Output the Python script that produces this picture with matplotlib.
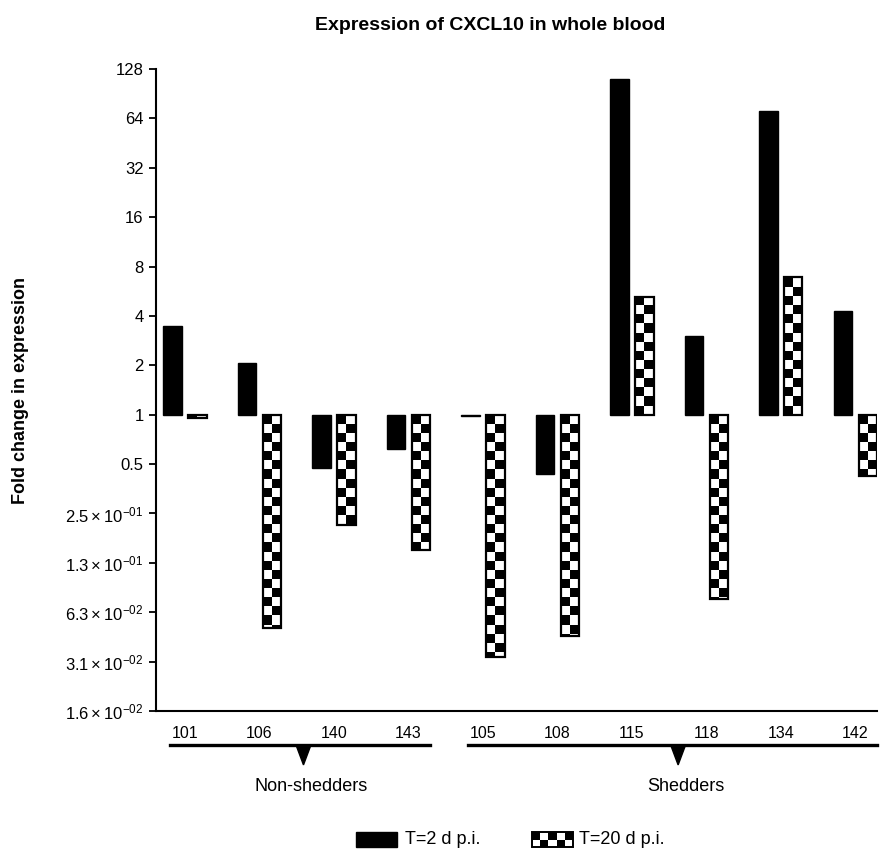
import numpy as np
import matplotlib
matplotlib.use('Agg')
import matplotlib.pyplot as plt
from matplotlib.patches import Rectangle, Polygon
from matplotlib.lines import Line2D

plt.rcParams['font.family'] = ['Liberation Sans', 'DejaVu Sans']
plt.rcParams['mathtext.fontset'] = 'custom'
plt.rcParams['mathtext.rm'] = 'Liberation Sans'
plt.rcParams['mathtext.it'] = 'Liberation Sans:italic'
plt.rcParams['mathtext.bf'] = 'Liberation Sans:bold'

# fold change per animal
animals = ['101', '106', '140', '143', '105', '108', '115', '118', '134', '142']
day2 = [3.46, 2.07, 0.473, 0.617, 0.985, 0.435, 111, 3.0, 71, 4.26]
day20 = [0.96, 0.050, 0.212, 0.150, 0.0333, 0.0446, 5.2, 0.0753, 6.87, 0.424]

groups = ['Non-shedders', 'Shedders']
group_first = [0, 4]
group_last = [3, 9]

ytick_vals = 2.0 ** np.arange(-6, 8)
ytick_labels = [r'$\mathregular{1.6\times10^{-02}}$', r'$\mathregular{3.1\times10^{-02}}$',
                r'$\mathregular{6.3\times10^{-02}}$', r'$\mathregular{1.3\times10^{-01}}$',
                r'$\mathregular{2.5\times10^{-01}}$', '0.5', '1', '2', '4', '8', '16',
                '32', '64', '128']

legend_labels = ['T=2 d p.i.', 'T=20 d p.i.']

W, H = 881, 852
fig = plt.figure(figsize=(W / 100, H / 100), dpi=100)
ax = fig.add_axes([156 / W, 1 - 711 / H, 721 / W, 642 / H])

x = np.arange(len(animals))
bw = 0.245
off = 0.167

ax.set_yscale('log', base=2)
ax.set_ylim(ytick_vals[0], ytick_vals[-1])
ax.set_xlim(-0.39, 9.29)

for s in ['top', 'right']:
    ax.spines[s].set_visible(False)
for s in ['left', 'bottom']:
    ax.spines[s].set_linewidth(1.5)

ax.set_yticks(ytick_vals)
ax.set_yticklabels(ytick_labels)
ax.yaxis.set_minor_locator(matplotlib.ticker.NullLocator())
ax.tick_params(axis='y', direction='out', length=5, width=1.3, labelsize=12, pad=4)
ax.set_xticks(x)
ax.set_xticklabels(animals)
ax.tick_params(axis='x', length=0, labelsize=11.5, pad=11)

# black bars: day 2
for xi, v in zip(x, day2):
    ax.bar(xi - off, v - 1, bottom=1, width=bw, color='black', edgecolor='black',
           linewidth=1.0, zorder=2)


def checker_cells(xc, v):
    inv = ax.transData.inverted()
    px0, py0 = ax.transData.transform((xc - bw / 2, 1))
    px1, py1 = ax.transData.transform((xc + bw / 2, v))
    cw = (px1 - px0) / 2
    sgn = 1 if py1 > py0 else -1
    n = int(np.ceil(abs(py1 - py0) / cw)) + 1
    cells = []
    for r in range(n):
        for c in range(2):
            if (r + c) % 2 == 0:
                a = inv.transform((px0 + c * cw, py0 + sgn * r * cw))
                b = inv.transform((px0 + (c + 1) * cw, py0 + sgn * (r + 1) * cw))
                cells.append((a[0], min(a[1], b[1]), b[0] - a[0], abs(b[1] - a[1])))
    return cells


# checkered bars: day 20
for xi, v in zip(x, day20):
    xc = xi + off
    ax.bar(xc, v - 1, bottom=1, width=bw, color='white', edgecolor='none', zorder=1.5)
    outline = ax.bar(xc, v - 1, bottom=1, width=bw, facecolor='none', edgecolor='black',
                     linewidth=1.6, zorder=3)[0]
    for cx, cy, cwid, chei in checker_cells(xc, v):
        r = Rectangle((cx, cy), cwid, chei, facecolor='black', edgecolor='none', zorder=2)
        ax.add_patch(r)
        r.set_clip_path(outline)

# group brackets under the axis
trans = ax.get_xaxis_transform()
tri_x = [1.59, 6.62]
for g, lab in enumerate(groups):
    x0 = group_first[g] - 0.2
    x1 = group_last[g] + 0.29
    ax.add_line(Line2D([x0, x1], [-0.053, -0.053], color='black', lw=2.4,
                       transform=trans, clip_on=False))
    tx = tri_x[g]
    ax.add_patch(Polygon([[tx - 0.1, -0.053], [tx + 0.1, -0.053], [tx, -0.084]],
                         closed=True, color='black', transform=trans, clip_on=False))
    ax.text(tx + 0.1, -0.118, lab, transform=trans, ha='center', va='center', fontsize=13)

ax.set_ylabel('Fold change in expression', fontsize=13, fontweight='bold', va='center')
ax.yaxis.set_label_coords(-0.188, 0.5)
fig.text(490 / W, 1 - 26 / H, 'Expression of CXCL10 in whole blood', ha='center',
         va='center', fontsize=14, fontweight='bold')

# legend
ly0, lh = 1 - 847 / H, 15 / H
fig.patches.append(Rectangle((356 / W, ly0), 41 / W, lh, facecolor='black',
                             edgecolor='black', transform=fig.transFigure))
fig.text(405 / W, 1 - 840 / H, legend_labels[0], ha='left', va='center', fontsize=13)
fig.patches.append(Rectangle((532 / W, ly0), 41 / W, lh, facecolor='white',
                             edgecolor='none', transform=fig.transFigure, zorder=1))
for r in range(2):
    for c in range(5):
        if (r + c) % 2 == 1:
            fig.patches.append(Rectangle(((532 + c * 8.2) / W, ly0 + r * lh / 2), 8.2 / W,
                                         lh / 2, facecolor='black', edgecolor='none',
                                         transform=fig.transFigure, zorder=2))
fig.patches.append(Rectangle((532 / W, ly0), 41 / W, lh, facecolor='none',
                             edgecolor='black', linewidth=1.4,
                             transform=fig.transFigure, zorder=3))
fig.text(579 / W, 1 - 840 / H, legend_labels[1], ha='left', va='center', fontsize=13)

fig.savefig('out.png', dpi=100)
